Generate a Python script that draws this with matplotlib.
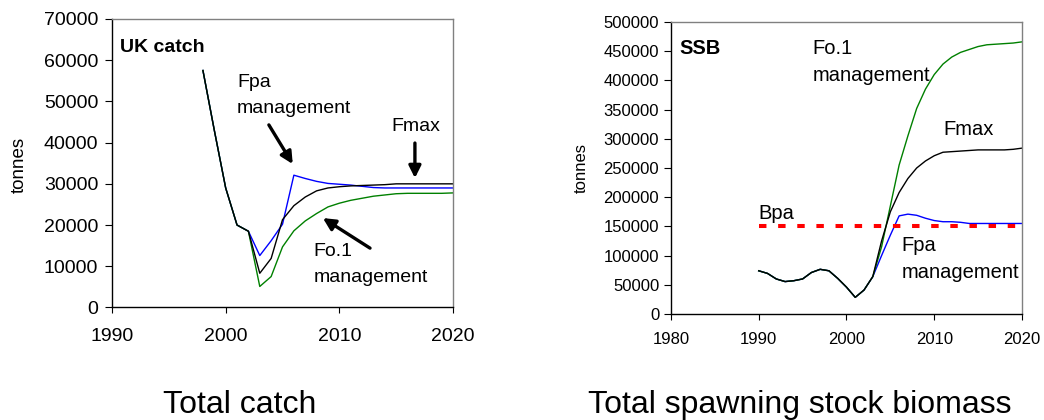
"""Two-panel projection figure: UK catch and spawning stock biomass under
three fishing-mortality management options (Fpa, Fmax, Fo.1)."""

import matplotlib

matplotlib.use("Agg")
import matplotlib.pyplot as plt
import numpy as np

plt.rcParams["font.family"] = ["Liberation Sans", "DejaVu Sans"]

# ---- data ---------------------------------------------------------------
CATCH_YEARS = np.arange(1998, 2021)
catch_fpa = [57500, 43000, 29000, 20000, 18500, 12600, 16200, 20200, 32100,
             31300, 30600, 30100, 29900, 29700, 29400, 29100, 29000, 29000,
             29000, 29000, 29000, 29000, 29000]
catch_fmax = [57500, 43000, 29000, 20000, 18500, 8300, 11900, 21300, 24700,
              26800, 28300, 29000, 29300, 29500, 29600, 29700, 29800, 30000,
              30000, 30000, 30000, 30000, 30000]
catch_fo1 = [57500, 43000, 29000, 20000, 18500, 5100, 7500, 14700, 18600,
             21000, 22800, 24400, 25300, 26000, 26500, 27000, 27300, 27600,
             27700, 27700, 27700, 27700, 27800]

SSB_YEARS = np.arange(1990, 2021)
ssb_hist = [74000, 69500, 60000, 55500, 57000, 60000, 71000, 76500, 74000,
            61000, 46000, 28500, 41000, 64000]
ssb_fo1 = ssb_hist + [115000, 185000, 255000, 305000, 352000, 385000, 410000,
                      428000, 440000, 448000, 453000, 458000, 461000, 462000,
                      463000, 464000, 466000]
ssb_fmax = ssb_hist + [125000, 175000, 208000, 232000, 250000, 262000, 271000,
                       277000, 278000, 279000, 280000, 281000, 281000, 281000,
                       281000, 282000, 284000]
ssb_fpa = ssb_hist + [100000, 135000, 168000, 171000, 169000, 164000, 160000,
                      158000, 158000, 157000, 155000, 155000, 155000, 155000,
                      155000, 155000, 155000]
BPA = 150000
BPA_YEARS = [1990, 2020]

BLUE, GREEN, RED, FRAME = "#0000ff", "#008000", "#ff0000", "#808080"


def style_axes(ax, tick_size, xpad, ypad):
    for side in ("top", "right"):
        ax.spines[side].set_color(FRAME)
    for side in ("left", "bottom"):
        ax.spines[side].set_color("black")
    for sp in ax.spines.values():
        sp.set_linewidth(1.0)
    ax.tick_params(axis="x", direction="out", length=4, width=0.8,
                   labelsize=tick_size, pad=xpad, top=False)
    ax.tick_params(axis="y", direction="out", length=5, width=0.8,
                   labelsize=tick_size, pad=ypad, right=False)


def arrow(ax, tail, tip):
    ax.annotate("", xy=tip, xytext=tail,
                arrowprops=dict(arrowstyle="-|>", color="black", lw=2.4,
                                mutation_scale=18, shrinkA=0, shrinkB=0))


def words(ax, items, size, **kw):
    for text, x, y in items:
        ax.text(x, y, text, fontsize=size, ha="left", va="baseline", **kw)


def panel_catch(ax):
    ax.plot(CATCH_YEARS, catch_fpa, color=BLUE, lw=1.0)
    ax.plot(CATCH_YEARS, catch_fo1, color=GREEN, lw=1.0)
    ax.plot(CATCH_YEARS, catch_fmax, color="black", lw=1.0)
    ax.set_xlim(1990, 2020)
    ax.set_ylim(0, 70000)
    ax.set_xticks([1990, 2000, 2010, 2020])
    ax.set_yticks(np.arange(0, 70001, 10000))
    style_axes(ax, 14, 11, 5)
    ax.text(-0.273, 0.494, "tonnes", transform=ax.transAxes, rotation=90,
            ha="center", va="center", fontsize=13.5)

    ax.text(1990.7, 62100, "UK catch", fontsize=14, fontweight="bold",
            ha="left", va="baseline")
    words(ax, [("Fpa", 2001.0, 53400), ("management", 2001.0, 47300),
               ("Fmax", 2014.6, 42700),
               ("Fo.1", 2007.7, 12500), ("management", 2007.7, 6300)], 14)
    arrow(ax, (2003.8, 44300), (2005.9, 34800))
    arrow(ax, (2016.65, 39900), (2016.65, 31400))
    arrow(ax, (2012.7, 14400), (2008.55, 21700))


def panel_ssb(ax):
    ax.plot(SSB_YEARS, ssb_fpa, color=BLUE, lw=1.0)
    ax.plot(SSB_YEARS, ssb_fo1, color=GREEN, lw=1.0)
    ax.plot(SSB_YEARS, ssb_fmax, color="black", lw=1.0)
    ax.plot(BPA_YEARS, [BPA, BPA], color=RED, lw=2.9,
            linestyle=(0, (1.85, 2.9)), dash_capstyle="butt")
    ax.set_xlim(1980, 2020)
    ax.set_ylim(0, 500000)
    ax.set_xticks(np.arange(1980, 2021, 10))
    ax.set_yticks(np.arange(0, 500001, 50000))
    style_axes(ax, 12, 9, 3.5)
    ax.text(-0.256, 0.5, "tonnes", transform=ax.transAxes, rotation=90,
            ha="center", va="center", fontsize=12)

    ax.text(1981.0, 445200, "SSB", fontsize=14.5, fontweight="bold",
            ha="left", va="baseline")
    words(ax, [("Fo.1", 1996.1, 444700), ("management", 1996.1, 399000),
               ("Fmax", 2011.0, 306500),
               ("Bpa", 1990.0, 162700),
               ("Fpa", 2006.3, 108400), ("management", 2006.3, 61100)], 14.5)


def main():
    fig = plt.figure(figsize=(10.44, 4.2), dpi=100)
    ax1 = fig.add_axes([0.1073, 0.2679, 0.3266, 0.6869])
    ax2 = fig.add_axes([0.6427, 0.2524, 0.3362, 0.6952])
    panel_catch(ax1)
    panel_ssb(ax2)
    fig.text(240 / 1044, 1 - 413 / 420, "Total catch", fontsize=23,
             ha="center", va="baseline")
    fig.text(800 / 1044, 1 - 413 / 420, "Total spawning stock biomass",
             fontsize=23, ha="center", va="baseline")
    fig.savefig("out.png", dpi=100)


if __name__ == "__main__":
    main()
